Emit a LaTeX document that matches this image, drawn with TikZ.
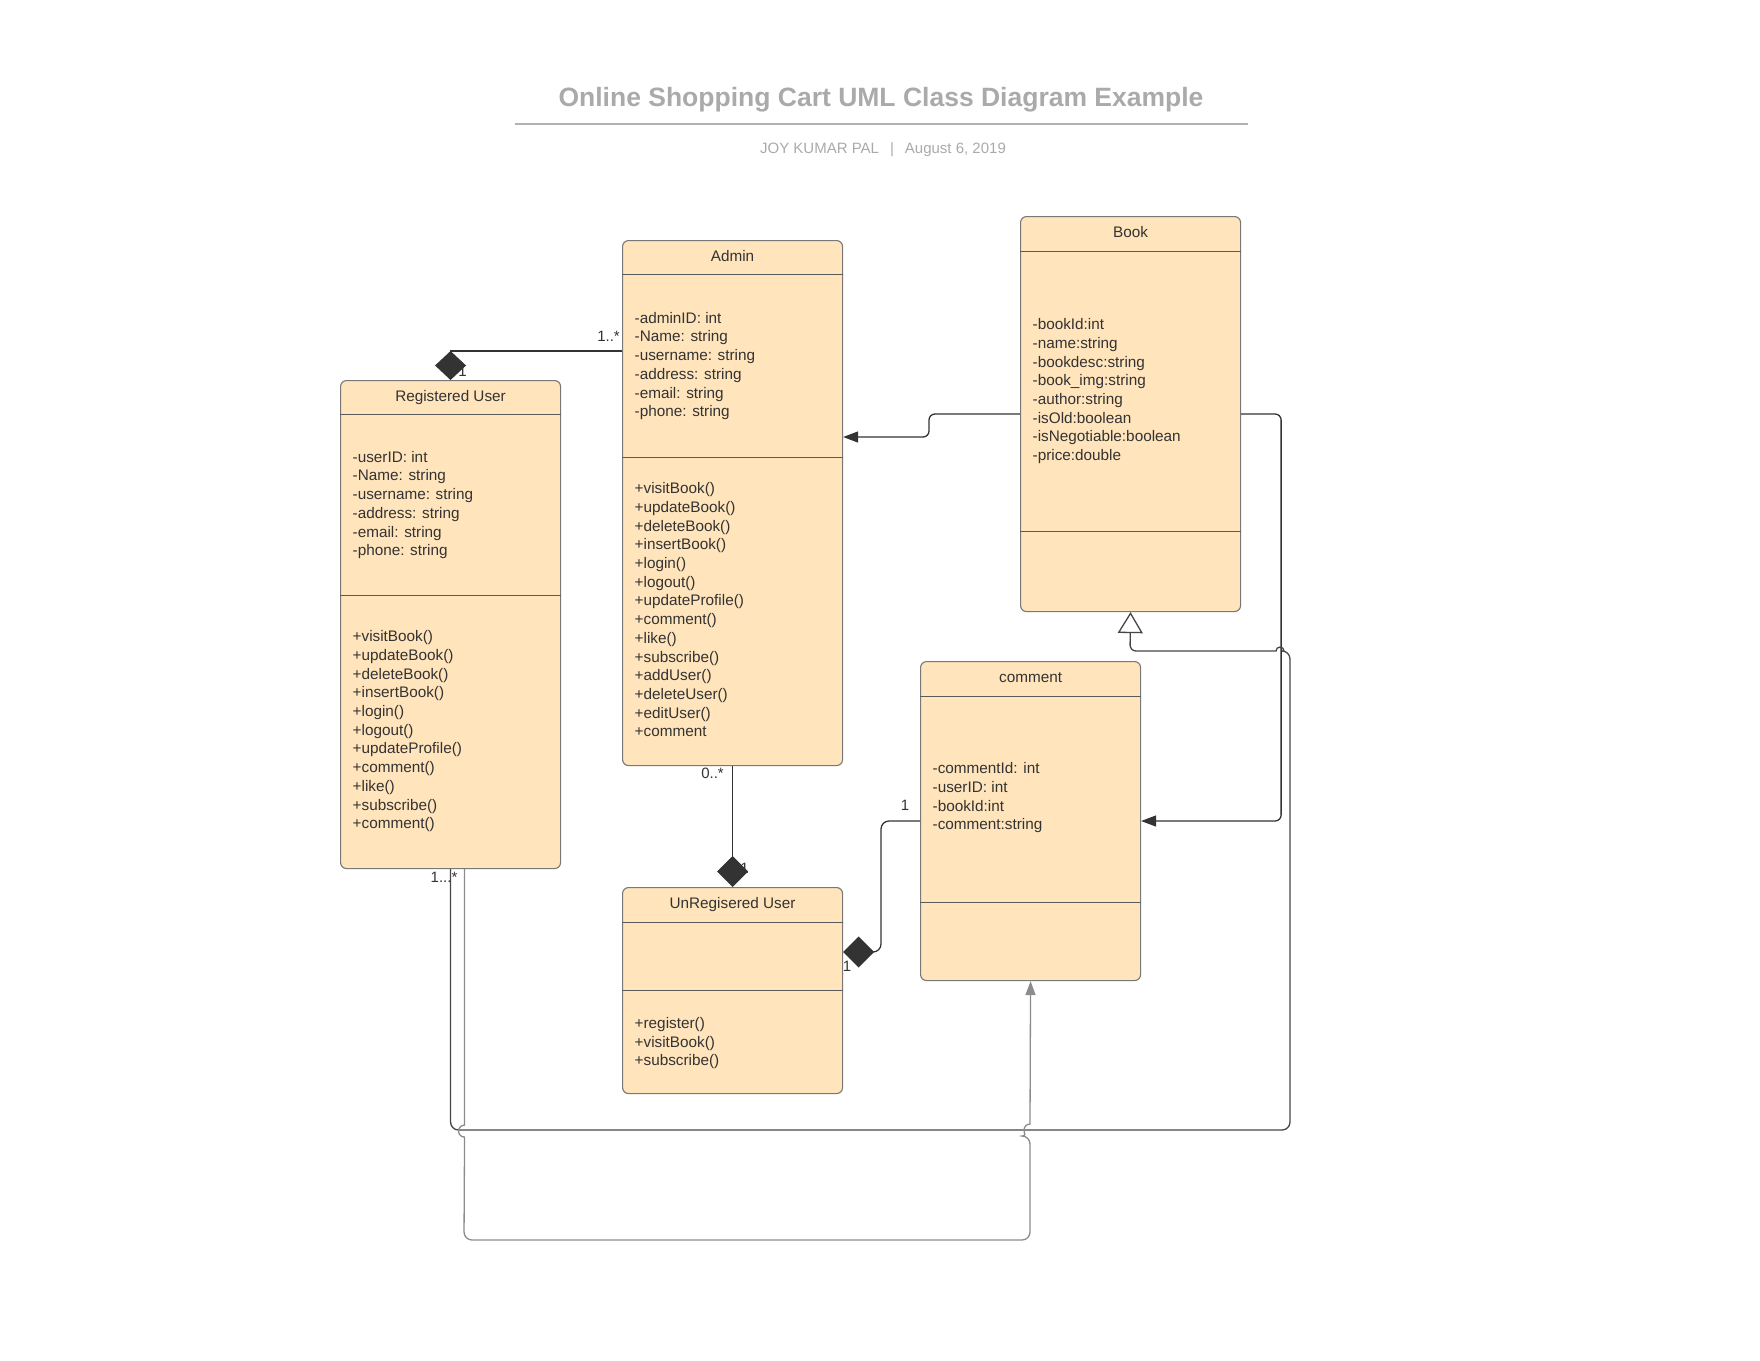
\documentclass[tikz,border=0pt]{standalone}
\usepackage{fontspec}
\setmainfont{Liberation Sans}
\usepackage{xcolor}
\usetikzlibrary{arrows.meta,positioning,calc}

\definecolor{boxfill}{RGB}{255,228,188}
\definecolor{boxline}{RGB}{120,120,120}
\definecolor{sepline}{RGB}{90,90,90}
\definecolor{txt}{RGB}{51,51,51}
\definecolor{linedark}{RGB}{51,51,51}
\definecolor{linegen}{RGB}{70,70,70}
\definecolor{lineassoc}{RGB}{140,140,140}
\definecolor{headgray}{RGB}{170,170,170}

\begin{document}
\begin{tikzpicture}[x=1pt, y=-1pt,
  cls/.style={rectangle, draw=boxline, fill=boxfill, rounded corners=6pt, line width=1.1pt,
    minimum width=220pt, inner sep=0pt, anchor=north west},
  cname/.style={font=\fontsize{15.3}{18.7}\selectfont, text=txt, inner sep=0pt,
    text height=11pt, text depth=3pt},
  list/.style={font=\fontsize{15.3}{18.7}\selectfont, text=txt, inner sep=0pt, align=left},
  mult/.style={font=\fontsize{15}{18}\selectfont, text=txt, inner sep=0pt},
  sep/.style={draw=sepline, line width=1pt},
  comp/.style={draw=linedark, line width=1.3pt, -{Diamond[length=31pt, width=31pt]}},
  dep/.style={draw=linedark, line width=1.3pt, rounded corners=6pt, -{Triangle[length=15pt, width=11pt]}},
  gen/.style={draw=linegen, line width=1.3pt, -{Triangle[open, length=21pt, width=25pt, fill=white]}},
  assoc/.style={draw=lineassoc, line width=1.3pt, -{Triangle[length=14pt, width=10pt]}}
]

\useasboundingbox (0,0) rectangle (1760,1360);
\fill[white] (0,0) rectangle (1760,1360);

% heading
\node[font=\bfseries\fontsize{26.5}{30}\selectfont, text=headgray, inner sep=0pt] (title) at (881,100)
  {Online Shopping Cart UML Class Diagram Example};
\draw[draw=headgray!90, line width=2pt] ($(title.center)+(-366,23.5)$) -- ($(title.center)+(367,23.5)$);
\node[font=\fontsize{15}{18}\selectfont, text=headgray, inner sep=0pt] (subtitle) at (883,150)
  {JOY KUMAR PAL\hspace{11pt}|\hspace{11pt}August 6, 2019};

% classes
\node[cls, minimum height=525pt] (admin) at (622,240) {};
\draw[sep] ($(admin.north west)+(0,34)$) -- ($(admin.north east)+(0,34)$);
\draw[sep] ($(admin.north west)+(0,217)$) -- ($(admin.north east)+(0,217)$);
\node[cname, below=10pt of admin.north] (adminN) {Admin};
\node[list, below right=72pt and 12.5pt of admin.north west] (adminA)
  {-adminID: int\\-Name: string\\-username: string\\-address: string\\-email: string\\-phone: string};
\node[list, below right=242.5pt and 12.5pt of admin.north west] (adminM)
  {+visitBook()\\+updateBook()\\+deleteBook()\\+insertBook()\\+login()\\+logout()\\+updateProfile()\\+comment()\\+like()\\+subscribe()\\+addUser()\\+deleteUser()\\+editUser()\\+comment};

\node[cls, minimum height=488pt] (reg) at (340,380) {};
\draw[sep] ($(reg.north west)+(0,34)$) -- ($(reg.north east)+(0,34)$);
\draw[sep] ($(reg.north west)+(0,215)$) -- ($(reg.north east)+(0,215)$);
\node[cname, below=10pt of reg.north] (regN) {Registered User};
\node[list, below right=71pt and 12.5pt of reg.north west] (regA)
  {-userID: int\\-Name: string\\-username: string\\-address: string\\-email: string\\-phone: string};
\node[list, below right=250.5pt and 12.5pt of reg.north west] (regM)
  {+visitBook()\\+updateBook()\\+deleteBook()\\+insertBook()\\+login()\\+logout()\\+updateProfile()\\+comment()\\+like()\\+subscribe()\\+comment()};

\node[cls, minimum height=395pt] (book) at (1020,216) {};
\draw[sep] ($(book.north west)+(0,35)$) -- ($(book.north east)+(0,35)$);
\draw[sep] ($(book.north west)+(0,315)$) -- ($(book.north east)+(0,315)$);
\node[cname, below=10pt of book.north] (bookN) {Book};
\node[list, below right=102.5pt and 12.5pt of book.north west] (bookA)
  {-bookId:int\\-name:string\\-bookdesc:string\\-book\_img:string\\-author:string\\-isOld:boolean\\-isNegotiable:boolean\\-price:double};

\node[cls, minimum height=319pt] (cmt) at (920,661) {};
\draw[sep] ($(cmt.north west)+(0,35)$) -- ($(cmt.north east)+(0,35)$);
\draw[sep] ($(cmt.north west)+(0,241)$) -- ($(cmt.north east)+(0,241)$);
\node[cname, below=10pt of cmt.north] (cmtN) {comment};
\node[list, below right=101.5pt and 12.5pt of cmt.north west] (cmtA)
  {-commentId: int\\-userID: int\\-bookId:int\\-comment:string};

\node[cls, minimum height=206pt] (unreg) at (622,887) {};
\draw[sep] ($(unreg.north west)+(0,35)$) -- ($(unreg.north east)+(0,35)$);
\draw[sep] ($(unreg.north west)+(0,103)$) -- ($(unreg.north east)+(0,103)$);
\node[cname, below=10pt of unreg.north] (unregN) {UnRegisered User};
\node[list, below right=130pt and 12.5pt of unreg.north west] (unregM)
  {+register()\\+visitBook()\\+subscribe()};

% multiplicities
\node[mult, anchor=east] (m1) at ($(admin.north west)+(-2,96)$) {1..*};
\node[mult] (m2) at ($(reg.north)+(12,-9)$) {1};
\node[mult] (m3) at ($(admin.south)+(-20,7)$) {0..*};
\node[mult] (m4) at ($(unreg.north)+(12,-19)$) {1};
\node[mult] (m5) at ($(cmt.north west)+(-15,144)$) {1};
\node[mult] (m6) at ($(unreg.north east)+(4,79)$) {1};
\node[mult] (m7) at ($(reg.south)+(-6.5,8)$) {1...*};

% connectors
\draw[comp, -{Diamond[length=29pt, width=31pt]}] ($(admin.north west)+(0,111)$) -| (reg.north);
\draw[comp] (admin.south) -- (unreg.north);
\draw[comp, rounded corners=8pt] ($(cmt.north west)+(0,160)$) -- ++(-39,0) |- ($(unreg.north east)+(0,65)$);
\draw[dep] ($(book.north west)+(0,198)$) -- ++(-91,0) |- ($(admin.north east)+(0,197)$);
\draw[dep] ($(book.north east)+(0,198)$) -- ++(40,0) |- ($(cmt.north east)+(0,160)$);
\draw[gen] (reg.south) {[rounded corners=8pt] |- (1290,1130) -- (1290,651)} -- (1284,651)
  arc[start angle=0, end angle=-180, radius=4] {[rounded corners=6pt] -- (1130,651) -- (book.south)};
\draw[assoc] ($(reg.south)+(14,0)$) -- ++(0,256) arc[start angle=270, end angle=90, radius=6]
  {[rounded corners=8pt] -- (464,1240) -- (1030,1240) -- (1030,1136)}
  arc[start angle=90, end angle=270, radius=6] -- (cmt.south);

\end{tikzpicture}
\end{document}
